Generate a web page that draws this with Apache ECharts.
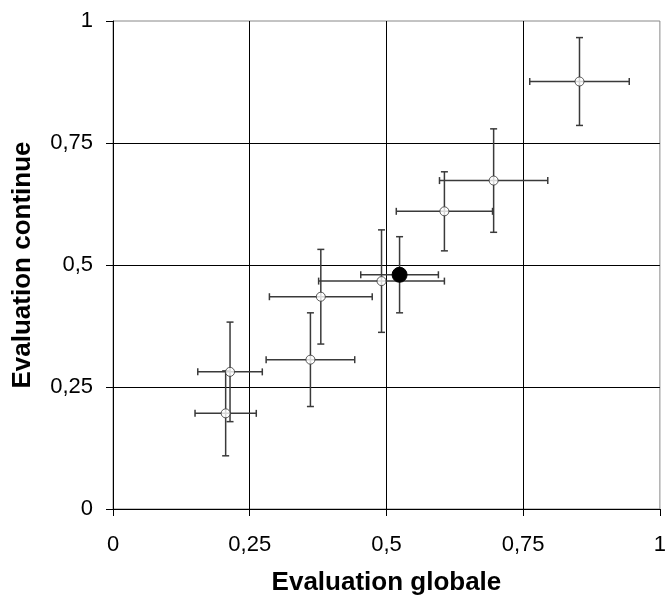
<!DOCTYPE html>
<html>
<head>
<meta charset="utf-8">
<script src="https://cdn.jsdelivr.net/npm/echarts@6/dist/echarts.min.js"></script>
<style>
html,body{margin:0;padding:0;background:#fff;}
#c{width:669px;height:601px;}
</style>
</head>
<body>
<div id="c"></div>
<script>
// Data
var xVals = [0.206, 0.214, 0.361, 0.380, 0.491, 0.524, 0.606, 0.696, 0.853];
var yVals = [0.196, 0.281, 0.306, 0.435, 0.467, 0.480, 0.610, 0.673, 0.876];
var xErr  = [0.056, 0.059, 0.081, 0.094, 0.115, 0.071, 0.088, 0.099, 0.091];
var yErr  = [0.087, 0.102, 0.096, 0.097, 0.105, 0.078, 0.081, 0.106, 0.090];
var filledIndex = 5;
var tickValues = [0, 0.25, 0.5, 0.75, 1];
var tickLabels = ['0', '0,25', '0,5', '0,75', '1'];
var xTitle = 'Evaluation globale';
var yTitle = 'Evaluation continue';

function fmt(v){
  for (var i=0;i<tickValues.length;i++){ if (Math.abs(v-tickValues[i])<1e-9) return tickLabels[i]; }
  return '';
}

var errData = xVals.map(function(x,i){ return [x, yVals[i], xErr[i], yErr[i]]; });
var openPts = [], filledPts = [];
xVals.forEach(function(x,i){ (i===filledIndex?filledPts:openPts).push([x, yVals[i]]); });

var chart = echarts.init(document.getElementById('c'), null, {renderer:'canvas'});
var FONT = '"Liberation Sans", Arial, sans-serif';
var barColor = '#3a3a3a';

chart.setOption({
  animation:false,
  backgroundColor:'#fff',
  grid:{left:113, right:4, top:21, bottom:90, show:true, borderColor:'#888', borderWidth:1},
  xAxis:{
    type:'value', min:0, max:1, interval:0.25,
    name:xTitle, nameLocation:'middle', nameGap:61,
    nameTextStyle:{fontFamily:FONT, fontSize:26, fontWeight:'bold', color:'#000'},
    axisLine:{show:true, onZero:false, lineStyle:{color:'#000', width:1}},
    axisTick:{show:true, inside:false, length:7, lineStyle:{color:'#000'}},
    axisLabel:{formatter:fmt, fontFamily:FONT, fontSize:22, color:'#000', margin:25},
    splitLine:{show:true, showMaxLine:false, lineStyle:{color:'#000', width:1}}
  },
  yAxis:{
    type:'value', min:0, max:1, interval:0.25,
    name:yTitle, nameLocation:'middle', nameGap:77, nameRotate:90,
    nameTextStyle:{fontFamily:FONT, fontSize:26, fontWeight:'bold', color:'#000'},
    axisLine:{show:true, onZero:false, lineStyle:{color:'#000', width:1}},
    axisTick:{show:true, inside:false, length:7, lineStyle:{color:'#000'}},
    axisLabel:{formatter:fmt, fontFamily:FONT, fontSize:22, color:'#000', margin:20},
    splitLine:{show:true, showMaxLine:false, lineStyle:{color:'#000', width:1}}
  },
  series:[
    {
      type:'custom',
      z:3,
      data:errData,
      renderItem:function(params, api){
        var x = api.value(0), y = api.value(1), ex = api.value(2), ey = api.value(3);
        var l = api.coord([x-ex, y]), r = api.coord([x+ex, y]);
        var t = api.coord([x, y+ey]), b = api.coord([x, y-ey]);
        var c = 3.5;
        var st = {stroke:barColor, lineWidth:1.5};
        return {type:'group', children:[
          {type:'line', shape:{x1:l[0],y1:l[1],x2:r[0],y2:r[1]}, style:st},
          {type:'line', shape:{x1:l[0],y1:l[1]-c,x2:l[0],y2:l[1]+c}, style:st},
          {type:'line', shape:{x1:r[0],y1:r[1]-c,x2:r[0],y2:r[1]+c}, style:st},
          {type:'line', shape:{x1:t[0],y1:t[1],x2:b[0],y2:b[1]}, style:st},
          {type:'line', shape:{x1:t[0]-c,y1:t[1],x2:t[0]+c,y2:t[1]}, style:st},
          {type:'line', shape:{x1:b[0]-c,y1:b[1],x2:b[0]+c,y2:b[1]}, style:st}
        ]};
      }
    },
    {
      type:'scatter', z:5, data:openPts, symbol:'circle', symbolSize:9,
      itemStyle:{color:'#fff', borderColor:'#333', borderWidth:1}
    },
    {
      type:'scatter', z:6, data:filledPts, symbol:'circle', symbolSize:15,
      itemStyle:{color:'#000', borderColor:'#000', borderWidth:1, opacity:1}
    }
  ]
});
</script>
</body>
</html>
